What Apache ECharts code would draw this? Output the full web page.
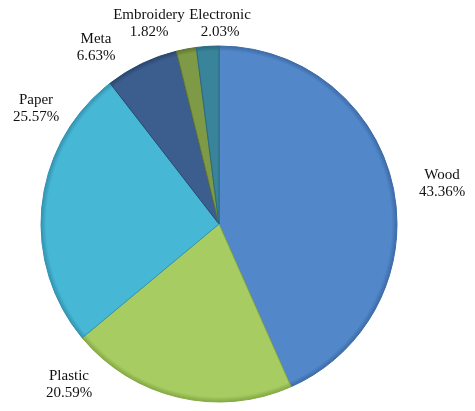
<!DOCTYPE html>
<html>
<head>
<meta charset="utf-8">
<script src="https://cdn.jsdelivr.net/npm/echarts@6/dist/echarts.min.js"></script>
<style>html,body{margin:0;padding:0;background:#fff;}#c{width:475px;height:411px;}</style>
</head>
<body>
<div id="c"></div>
<script>
const categories = ['Wood', 'Plastic', 'Paper', 'Meta', 'Embroidery', 'Electronic'];
const values = [43.36, 20.59, 25.57, 6.63, 1.82, 2.03];
const colors = ['#5287ca', '#a6cc62', '#47b7d6', '#3c5e8e', '#7f9a46', '#3a849b'];
const edgeColors = ['#3c6ba6', '#85a843', '#3193b0', '#28466f', '#5f7632', '#286a7e'];
// label anchor points (text-block centres)
const labelPos = [[442, 184], [69, 385], [36, 109], [96, 48], [149, 24], [220, 24]];

const chart = echarts.init(document.getElementById('c'));
chart.setOption({
  animation: false,
  series: [{
    type: 'pie',
    center: [219, 224],
    radius: 178,
    startAngle: 90,
    clockwise: true,
    avoidLabelOverlap: false,
    data: categories.map((n, i) => ({
      name: n,
      value: values[i],
      itemStyle: {
        color: {
          type: 'radial', x: 219, y: 224, r: 178, global: true,
          colorStops: [
            {offset: 0, color: colors[i]},
            {offset: 0.97, color: colors[i]},
            {offset: 1, color: edgeColors[i]}
          ]
        },
        borderColor: edgeColors[i],
        borderWidth: 1
      }
    })),
    label: {
      show: true,
      position: 'outside',
      formatter: p => p.name + '\n' + p.value.toFixed(2) + '%',
      fontFamily: 'Liberation Serif',
      fontSize: 15,
      lineHeight: 17,
      color: '#111',
      align: 'center'
    },
    labelLine: {show: false},
    labelLayout: p => ({
      x: labelPos[p.dataIndex][0],
      y: labelPos[p.dataIndex][1],
      align: 'center',
      verticalAlign: 'middle'
    }),
    emphasis: {disabled: true}
  }]
});
</script>
</body>
</html>
